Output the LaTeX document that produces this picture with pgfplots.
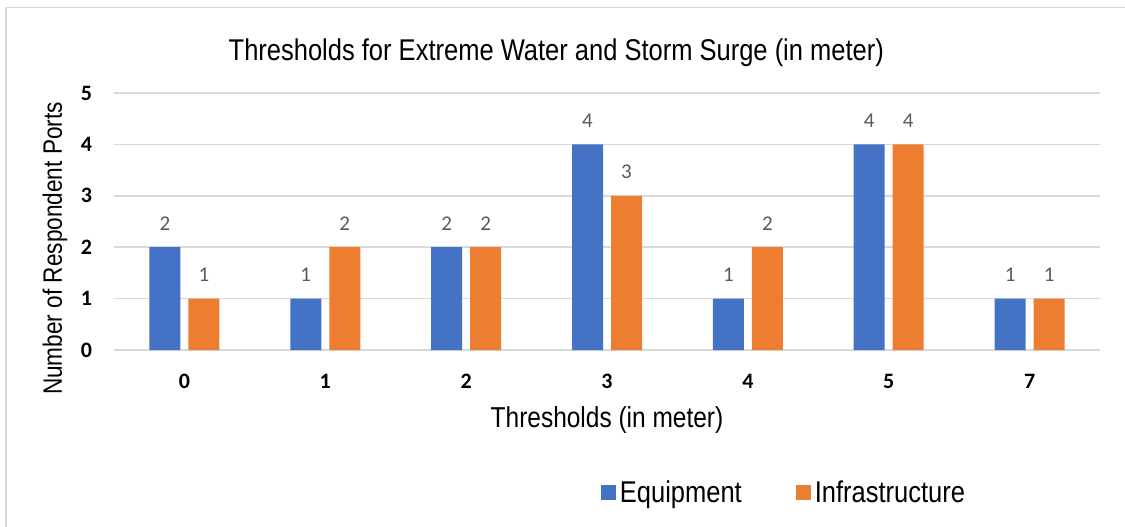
\documentclass[border=0pt]{standalone}
\usepackage{pgfplots}
\pgfplotsset{compat=1.18}
\usepackage{fontspec}
\setmainfont{Carlito}
\newfontfamily\narrowfont[FakeStretch=0.85]{Liberation Sans}

\definecolor{eqblue}{HTML}{4472C4}
\definecolor{inforange}{HTML}{ED7D31}
\definecolor{gridgray}{HTML}{D9D9D9}
\definecolor{labelgray}{HTML}{595959}

\begin{document}
\begin{tikzpicture}
% page = 1125x526 px at 0.5pt per px, origin at the plot's lower left
\useasboundingbox (-57pt,-88pt) rectangle (505.5pt,175pt);
\draw[gridgray, line width=0.9pt] (-54pt,-90pt) -- (-54pt,171.25pt) -- (510pt,171.25pt);
\begin{axis}[
    at={(0pt,0pt)}, anchor=south west,
    scale only axis,
    width=493pt, height=128.5pt,
    ybar, bar width=15.5pt,
    xmin=-0.5, xmax=6.5,
    ymin=0, ymax=5,
    xtick={0,...,6},
    xticklabels={0,1,2,3,4,5,7},
    ytick={0,1,2,3,4,5},
    ymajorgrids,
    grid style={gridgray, line width=0.75pt},
    axis line style={draw=none},
    major tick length=0pt,
    tick label style={font=\fontsize{11}{13}\selectfont\bfseries, /pgf/number format/assume math mode=true},
    xticklabel style={anchor=center, yshift=-15.5pt},
    yticklabel style={anchor=center, xshift=-13.75pt},
    title={\narrowfont\fontsize{15}{18}\selectfont Thresholds for Extreme Water and Storm Surge (in meter)},
    title style={at={(axis description cs:0.4486,1)}, anchor=base, yshift=10.5pt, inner sep=0pt},
    xlabel={\narrowfont\fontsize{14.4}{17}\selectfont Thresholds (in meter)},
    xlabel style={at={(axis description cs:0.5,0)}, anchor=base, yshift=-38.5pt, inner sep=0pt},
    ylabel={\narrowfont\fontsize{13.3}{16}\selectfont Number of Respondent Ports},
    ylabel style={at={(axis description cs:0,0.395)}, anchor=center, yshift=29.5pt, inner sep=0pt},
    nodes near coords={\pgfmathprintnumber[assume math mode=true]{\pgfplotspointmeta}},
    every node near coord/.append style={font=\fontsize{10.5}{12}\selectfont, text=labelgray, anchor=center, yshift=12pt},
    legend style={at={(axis description cs:0.6805,-0.556)}, anchor=center, draw=none, fill=none,
        legend columns=2, font=\narrowfont\fontsize{15}{18}\selectfont,
        nodes={inner sep=1.75pt},
        /tikz/every even column/.append style={column sep=25.5pt}},
    legend image code/.code={\fill[#1] (0pt,-3.75pt) rectangle (7.5pt,3.75pt);},
]
\addplot[fill=eqblue, draw=none, bar shift=-9.75pt] coordinates {
    (0,2) (1,1) (2,2) (3,4) (4,1) (5,4) (6,1)
};
\addplot[fill=inforange, draw=none, bar shift=9.75pt] coordinates {
    (0,1) (1,2) (2,2) (3,3) (4,2) (5,4) (6,1)
};
\legend{Equipment, Infrastructure}
\end{axis}
\end{tikzpicture}
\end{document}
